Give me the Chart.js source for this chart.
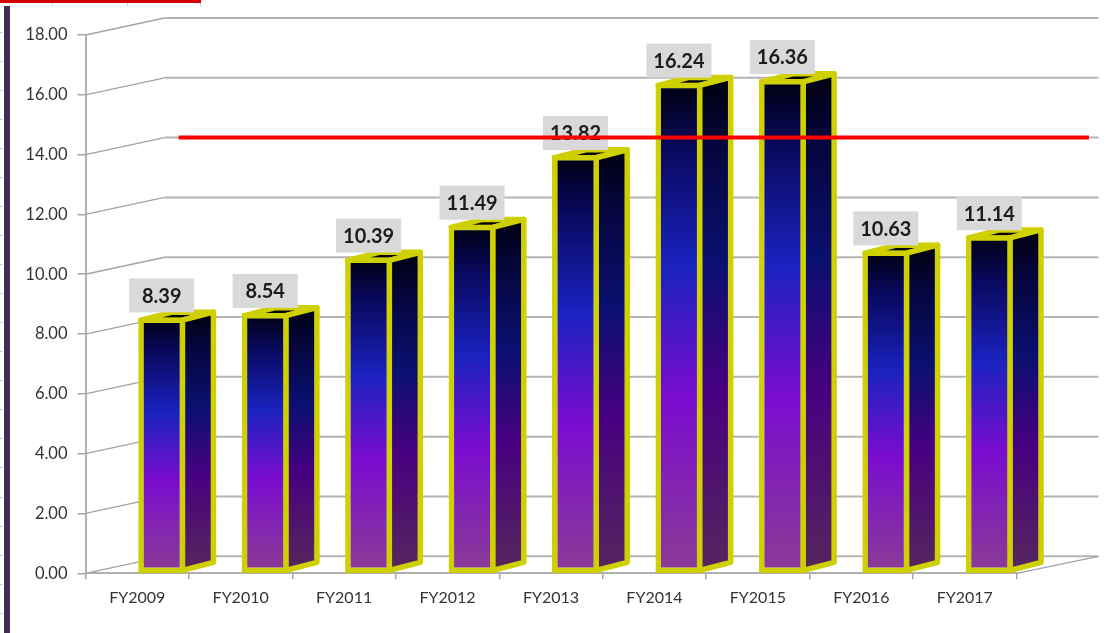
<!DOCTYPE html>
<html>
<head>
<meta charset="utf-8">
<title>FY2009–FY2017</title>
<script src="https://cdn.jsdelivr.net/npm/chart.js@4/dist/chart.umd.min.js"></script>
<style>
  html, body { margin: 0; padding: 0; background: #fff; overflow: hidden; }
  canvas { display: block; }
</style>
</head>
<body>
<canvas id="chart" width="1115" height="633"></canvas>
<script>
const categories = ['FY2009', 'FY2010', 'FY2011', 'FY2012', 'FY2013', 'FY2014', 'FY2015', 'FY2016', 'FY2017'];
const values = [8.39, 8.54, 10.39, 11.49, 13.82, 16.24, 16.36, 10.63, 11.14];
const referenceLevel = 14;
const referenceSpan = [0.9, 9.7];

// Pseudo-3D projection, in pixels
const WALL = { dx: 79, dy: -17 };
const BAR_SHIFT = { dx: 24.5, dy: -5 };
const BAR_DEPTH = { dx: 31, dy: -8 };
const EDGE = 5.5;
const EDGE_COLOR = '#cfd000';
const FONT = 'Lato, "Open Sans", sans-serif';

const frontStops = [[0, '#00000f'], [0.13, '#08085a'], [0.38, '#1a22c0'], [0.65, '#7a0cd0'], [1, '#8a3a96']];
const sideStops = [[0, '#00000f'], [0.13, '#05053a'], [0.38, '#0a1070'], [0.65, '#480080'], [1, '#55245f']];

function barGradient(canvasCtx, top, bottom, stops) {
  const g = canvasCtx.createLinearGradient(0, top, 0, bottom);
  stops.forEach(([p, c]) => g.addColorStop(p, c));
  return g;
}

function frontFill(ctx) {
  const chart = ctx.chart;
  if (!chart.chartArea) return '#1a22c0';
  const y = chart.scales.y;
  return barGradient(chart.ctx, y.getPixelForValue(values[ctx.dataIndex]), y.getPixelForValue(0), frontStops);
}

// Sheet furniture around the plot: top rule, left rule and faint ruler marks
const rulerLeft = [32, 61, 90, 119, 148, 177, 206, 235, 264, 293, 322, 351, 380, 409, 438, 467, 497, 526, 555, 584, 613];
const rulerTop = [52, 127, 200];

const sheetFrame = {
  id: 'sheetFrame',
  beforeDraw(chart) {
    const c = chart.ctx;
    c.save();
    c.fillStyle = '#cfcfcf';
    rulerLeft.forEach(y => c.fillRect(0, y, 3, 1));
    rulerTop.forEach(x => c.fillRect(x, 3, 1, 3));
    c.fillStyle = '#d40000';
    c.fillRect(0, 0, 201, 3);
    c.fillStyle = '#3f2f55';
    c.fillRect(4, 6, 6, 627);
    c.restore();
  }
};

// Back wall, side wall and floor lines, derived from the value axis
const wallGrid = {
  id: 'wallGrid',
  beforeDatasetsDraw(chart) {
    const c = chart.ctx, y = chart.scales.y, a = chart.chartArea;
    c.save();
    y.ticks.forEach(t => {
      const py = y.getPixelForValue(t.value);
      c.strokeStyle = '#a3a3a3';
      c.lineWidth = 1.3;
      c.beginPath();
      c.moveTo(a.left, py);
      c.lineTo(a.left + WALL.dx, py + WALL.dy);
      c.stroke();
      c.strokeStyle = '#b4b4b4';
      c.lineWidth = 2;
      c.beginPath();
      c.moveTo(a.left + WALL.dx, py + WALL.dy);
      c.lineTo(a.right + WALL.dx + 3, py + WALL.dy);
      c.stroke();
    });
    const floor = y.getPixelForValue(0);
    c.strokeStyle = '#a3a3a3';
    c.lineWidth = 1.3;
    c.beginPath();
    c.moveTo(a.right, floor);
    c.lineTo(a.right + WALL.dx + 3, floor + WALL.dy);
    c.stroke();
    c.restore();
  }
};

function drawFace(c, pts, fill) {
  c.beginPath();
  pts.forEach(([x, y], i) => (i ? c.lineTo(x, y) : c.moveTo(x, y)));
  c.closePath();
  c.fillStyle = fill;
  c.fill();
  c.stroke();
}

// Extrudes each bar element, shifts the series onto the floor, and adds value labels
const extrudedBars = {
  id: 'extrudedBars',
  beforeDatasetDraw(chart, args) {
    const c = chart.ctx;
    c.save();
    if (args.meta.type === 'line') {
      c.translate(0, WALL.dy);
      return;
    }
    c.translate(BAR_SHIFT.dx, BAR_SHIFT.dy);
    c.lineWidth = EDGE;
    c.lineJoin = 'round';
    c.strokeStyle = EDGE_COLOR;
    args.meta.data.forEach(el => {
      const p = el.getProps(['x', 'y', 'base', 'width'], true);
      const L = p.x - p.width / 2 + EDGE / 2;
      const R = p.x + p.width / 2 - EDGE / 2;
      const T = p.y + EDGE / 2;
      const B = p.base - EDGE / 2;
      const d = BAR_DEPTH;
      drawFace(c, [[L, T], [R, T], [R + d.dx, T + d.dy], [L + d.dx, T + d.dy]], '#05050f');
      drawFace(c, [[R, T], [R + d.dx, T + d.dy], [R + d.dx, B + d.dy], [R, B]],
        barGradient(c, T + d.dy, B + d.dy, sideStops));
    });
  },
  afterDatasetDraw(chart, args) {
    const c = chart.ctx;
    c.restore();
    if (args.meta.type === 'line') return;
    c.save();
    args.meta.data.forEach((el, i) => {
      const p = el.getProps(['x', 'y'], true);
      const cx = p.x + BAR_SHIFT.dx;
      const cy = p.y + BAR_SHIFT.dy - 22;
      c.fillStyle = '#d9d9d9';
      c.fillRect(cx - 32.5, cy - 17, 65, 34);
      c.fillStyle = '#1c1c1c';
      c.font = 'bold 20px ' + FONT;
      c.textAlign = 'center';
      c.textBaseline = 'middle';
      c.fillText(values[i].toFixed(2), cx, cy + 1);
    });
    c.restore();
  }
};

new Chart(document.getElementById('chart'), {
  data: {
    labels: categories,
    datasets: [
      {
        type: 'line',
        order: 0,
        xAxisID: 'xRef',
        yAxisID: 'y',
        data: referenceSpan.map(x => ({ x, y: referenceLevel })),
        borderColor: '#ff0000',
        borderWidth: 4,
        pointRadius: 0,
        clip: false
      },
      {
        type: 'bar',
        order: 1,
        xAxisID: 'x',
        yAxisID: 'y',
        data: values,
        base: -0.16,
        grouped: false,
        categoryPercentage: 1,
        barPercentage: 0.454,
        backgroundColor: frontFill,
        borderColor: EDGE_COLOR,
        borderWidth: EDGE,
        borderSkipped: false,
        borderRadius: 1,
        clip: false
      }
    ]
  },
  options: {
    responsive: false,
    animation: false,
    events: [],
    layout: { padding: { top: 35, right: 98.5, left: 0, bottom: 0 } },
    plugins: { legend: { display: false }, tooltip: { enabled: false } },
    scales: {
      x: {
        type: 'category',
        afterFit(s) { s.height = 59.7; },
        grid: { drawOnChartArea: false, drawTicks: true, tickLength: 6, color: '#a6a6a6', lineWidth: 1.5 },
        border: { color: '#b0b0b0', width: 2 },
        ticks: { color: '#333333', padding: 9, maxRotation: 0, font: { family: FONT, size: 16 } }
      },
      xRef: { type: 'linear', display: false, min: 0, max: 9 },
      y: {
        min: 0,
        max: 18,
        afterFit(s) { s.width = 85.5; },
        grid: { drawOnChartArea: false, drawTicks: true, tickLength: 8, color: '#a6a6a6', lineWidth: 1.5 },
        border: { color: '#b0b0b0', width: 2 },
        ticks: {
          stepSize: 2,
          color: '#333333',
          padding: 10,
          font: { family: FONT, size: 16.5 },
          callback: v => v.toFixed(2)
        }
      }
    }
  },
  plugins: [sheetFrame, wallGrid, extrudedBars]
});
</script>
</body>
</html>
